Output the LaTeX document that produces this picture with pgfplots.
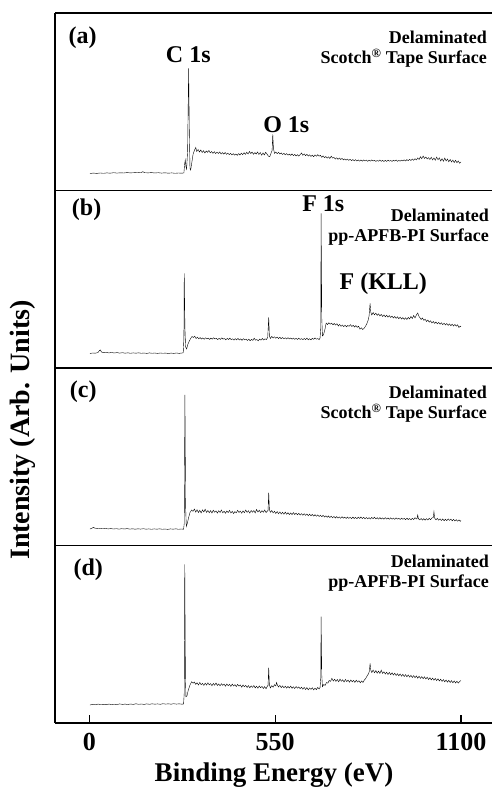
\documentclass[border=0pt]{standalone}
\usepackage{fontspec}
\setmainfont{Liberation Serif}
\usepackage{pgfplots}
\pgfplotsset{compat=1.18}
\newcommand{\fa}{\fontsize{24bp}{28bp}\selectfont\bfseries}
\newcommand{\fb}{\fontsize{18bp}{20bp}\selectfont\bfseries}
\pgfplotsset{panel/.style={scale only axis, width=445bp, height=177.5bp,
  xmin=-101.5, xmax=1215.5, ymin=0, ymax=177.5, ytick=\empty, xtick=\empty,
  axis x line=box, axis y line=left,
  axis line style={line width=1.3bp, -}, x axis line style={-}, y axis line style={-},
  anchor=south west,
  cycle list={{black, line width=1.25bp, mark=none, line join=round}}}}
\begin{document}
\begin{tikzpicture}
\useasboundingbox (0,0) rectangle (492bp,787bp);
% ---------------- (a)
\begin{axis}[panel, at={(55bp,596.5bp)}]
\addplot coordinates {(2,17.0) (12,17.4) (22,17.1) (32,17.5) (42,17.2) (52,17.6) (62,17.3) (72,17.8) (82,17.4) (92,17.7) (102,17.5) (112,17.9) (122,17.6) (132,17.8) (142,18.0) (152,17.7) (158,18.8) (164,17.8) (174,17.6) (184,17.9) (194,17.5) (204,17.8) (214,17.4) (224,17.7) (234,17.3) (244,17.6) (254,17.2) (264,17.5) (274,17.3) (280,17.6)
(282,26) (284,30.5) (286,24) (288,21.5) (291,40) (294,122) (296,60) (298,22) (300,20.5) (303,27) (307,36) (311,40) (315,43) (318,39)
(322,41) (326,38.5) (330,40.5) (334,38) (338,39.8) (342,37.5) (346,39.5) (350,38.2) (354,40) (358,37.6) (362,39) (366,37.2) (370,38.8) (374,36.9) (378,38.4) (382,37) (386,38.6) (390,36.5) (394,37.9) (398,36.4) (402,38) (406,36.2) (410,37.4) (414,35.9) (418,37.1) (422,35.6) (426,36.8) (430,35.4) (434,36.5) (438,35.2) (442,36.9) (446,35.5) (450,37.3) (454,35.8) (458,37.8) (462,36.1) (466,38.2) (470,36.5) (474,39) (478,37) (482,38.4) (486,36.2) (490,37.9) (494,36.5) (498,38.5) (502,36) (506,38) (510,35.2) (514,37.6) (518,35.6) (522,38.2) (526,36.4) (530,34.4) (534,33.8) (538,37.5) (541,40) (543,56) (545,42) (548,37)
(552,38.5) (556,36.8) (560,38.2) (564,36.5) (568,37.6) (572,36) (576,37.2) (580,35.6) (584,36.9) (588,35.3) (592,36.4) (596,35.1) (600,36.6) (604,34.9) (608,36.1) (612,34.6) (616,35.8) (620,34.4) (624,35.9) (628,37.5) (632,35.2) (636,36.6) (640,34.8) (644,36.2) (648,34.5) (652,35.7) (656,34) (660,35.3) (664,33.8) (668,35.5) (672,34.2) (676,35.8) (680,34.3) (684,35.2) (688,33.2) (692,34.6) (696,32.8) (700,34) (704,32.3) (708,33.7) (712,32) (716,34.3) (720,32.4) (724,33.1) (728,31.5) (732,32.7) (736,31.2) (740,32.5) (744,31) (748,32.1) (752,30.6) (756,31.6) (760,30.4) (764,31.4) (768,30.2) (772,31.2) (776,29.8) (780,31)
(784,29.6) (788,30.8) (792,29.5) (796,30.6) (800,29.4) (804,30.5) (808,29.3) (812,30.6) (816,29.5) (820,30.4) (824,29.2) (828,30.3) (832,29.4) (836,30.6) (840,29.5) (844,30.2) (848,29.1) (852,30) (856,29.3) (860,30.5) (864,29.2) (868,30.1) (872,29) (876,30.2) (880,29.1) (884,30.4) (888,29.3) (892,30) (896,29.1) (900,30.3) (904,29.4) (908,30.5) (912,29.2) (916,30.1) (920,29.3) (924,30.4) (928,29.6) (932,30.7) (936,29.5) (940,30.9) (944,29.8) (948,31.2) (952,30) (956,31.5) (960,30.2) (964,31.8) (968,30.6) (972,32.5) (976,31) (980,33.8) (984,31.8) (988,34.5) (992,32) (996,33.5) (1000,31.5) (1004,32.8) (1008,31) (1012,33.2) (1016,30.6) (1020,32.5) (1024,30.2) (1028,33.4) (1032,30.8) (1036,32.6) (1040,29.5) (1044,31.8) (1048,29.2) (1052,32.4) (1056,29.6) (1060,31.5) (1064,28.8) (1068,31) (1072,28.5) (1076,30.4) (1080,28) (1084,30.2) (1088,27.8) (1092,29.6) (1096,27.2) (1100,28.6)};
\node[font=\fa] at (axis cs:-20,153) {(a)};
\node[font=\fa] at (axis cs:293,136) {C 1s};
\node[font=\fa] at (axis cs:583,66) {O 1s};
\node[font=\fb, align=right, anchor=east, inner sep=0pt] at (axis cs:1177,141) {Delaminated\\Scotch\textsuperscript{\textregistered} Tape Surface};
\end{axis}
% ---------------- (b)
\begin{axis}[panel, at={(55bp,419bp)}]
\addplot coordinates {(2,14.5) (10,15) (18,14.8) (26,15.5) (30,17.5) (33,18) (36,16) (42,15.3) (50,15.6) (58,15.1) (66,15.5) (74,15) (82,15.4) (90,14.9) (98,15.3) (106,14.8) (114,15.2) (122,14.7) (130,15.1) (138,14.8) (146,15.2) (154,14.7) (162,15) (170,14.6) (178,15.1) (186,14.7) (194,15) (202,14.6) (210,15) (218,14.7) (226,14.9) (234,14.5) (242,14.9) (250,14.6) (258,15) (266,14.6) (274,15) (278,15.2)
(280,30) (281,94.7) (283,40) (285,21) (288,19) (292,24) (296,27) (300,29.5) (304,31.5) (308,30.5) (312,31.8)
(316,29.5) (320,30.8) (324,29.2) (328,30.4) (332,29) (336,30.1) (340,28.7) (344,30.2) (348,29.1) (352,29.8) (356,28.6) (360,29.9) (364,28.8) (368,30.3) (372,29) (376,29.6) (380,28.4) (384,29.7) (388,28.6) (392,30.2) (396,28.9) (400,29.5) (404,28.2) (408,29.6) (412,28.5) (416,29.9) (420,28.3) (424,29.2) (428,27.9) (432,29.4) (436,28.1) (440,29.6) (444,28) (448,29.1) (452,27.7) (456,29.3) (460,28.2) (464,28.9) (468,27.5) (472,28.8) (476,27.3) (480,28.6) (484,27.6) (488,29.8) (492,27.8) (496,28.5) (500,27.2) (504,28.9) (508,27.9) (512,29.5) (516,28) (520,29.2) (524,28.4) (528,30.5) (531,50.7) (533,32) (536,29.5) (540,31.6) (544,30) (548,31.2) (552,29.7) (556,30.9) (560,29.5) (564,30.6) (568,29.3) (572,30.5) (576,29.2) (580,30.2) (584,29) (588,30.4) (592,29.1) (596,30) (600,28.8) (604,29.9) (608,28.7) (612,29.6) (616,28.5) (620,29.8) (624,28.6) (628,29.4) (632,28.3) (636,29.5) (640,28.4) (644,29.9) (648,28.2) (652,29.3) (656,28.1) (660,29.6) (664,28.7) (668,30) (672,28.8) (676,29.5) (680,28.3) (683,30)
(685,40) (686,154.7) (688,50) (690,32) (693,33) (697,38) (701,45) (705,43.5) (709,45.2) (713,43.8) (717,44.9) (721,43.2) (725,44.5) (729,42.9) (733,44.3) (737,42) (741,43.6) (745,41.6) (749,43) (753,41.4) (757,42.8) (761,41.2) (765,42.5) (769,41.7) (773,43.4) (777,41.5) (781,42.6) (785,41) (789,42.4) (793,40.6) (797,41.8) (801,38.8) (805,40.2) (809,38.5) (813,39.6) (817,41.5) (821,44) (825,47.5) (828,52) (831,64.7) (833,56) (836,53) (840,55.5) (844,53.2) (848,54.8) (852,52.6) (856,54.2) (860,52) (864,53.6) (868,51.5) (872,53.1) (876,51.2) (880,52.8) (884,50.8) (888,52.4) (892,50.5) (896,51.8) (900,50) (904,51.5) (908,49.6) (912,51.2) (916,49.3) (920,50.8) (924,49) (928,50.4) (932,48.6) (936,50.2) (940,48.5) (944,50.6) (948,49) (952,51.5) (956,49.5) (960,52.5) (964,50) (968,53) (972,55) (975,52) (978,50.5) (982,48.5) (986,50) (990,47.6) (994,48.8) (998,46.5) (1002,48) (1006,45.8) (1010,47.2) (1014,45) (1018,46.5) (1022,44.6) (1026,46) (1030,44.2) (1034,45.6) (1038,43.8) (1042,45.2) (1046,43.4) (1050,44.8) (1054,43) (1058,44.5) (1062,42.6) (1066,44.1) (1070,42.3) (1074,43.8) (1078,42) (1082,43.6) (1086,41.8) (1090,43.2) (1094,40.5) (1098,41.8) (1100,41.3)};
\node[font=\fa] at (axis cs:-8,158) {(b)};
\node[font=\fa] at (axis cs:692.5,164.7) {F 1s};
\node[font=\fa] at (axis cs:870,84.7) {F (KLL)};
\node[font=\fb, align=right, anchor=east, inner sep=0pt] at (axis cs:1183,141.3) {Delaminated\\pp-APFB-PI Surface};
\end{axis}
% ---------------- (c)
\begin{axis}[panel, at={(55bp,241.5bp)}]
\addplot coordinates {(2,16.5) (8,17.3) (12,18.2) (16,17.4) (24,16.9) (32,17.1) (40,16.7) (48,17) (56,16.6) (64,16.9) (72,16.5) (80,16.8) (88,16.4) (96,16.8) (104,16.5) (112,16.9) (120,16.4) (128,16.7) (136,16.3) (144,16.7) (152,16.4) (160,16.8) (168,16.3) (176,16.6) (184,16.2) (192,16.6) (200,16.3) (208,16.7) (216,16.2) (224,16.5) (232,16.1) (240,16.6) (248,16.3) (256,16.7) (264,16.2) (272,16.5) (279,16.2)
(281,22) (283,150.5) (285,40) (287,19) (290,22) (294,28) (298,33) (303,35.5) (307,34.2)
(311,36.5) (315,33.4) (319,35.8) (323,33) (327,35.2) (331,32.6) (335,35.6) (339,33.5) (343,36.2) (347,33.1) (351,35) (355,32.8) (359,34.9) (363,32.5) (367,35.3) (371,33.2) (375,34.6) (379,32.4) (383,34.8) (387,33) (391,35.5) (395,32.7) (399,34.3) (403,32.2) (407,34.5) (411,32.9) (415,35.1) (419,32.5) (423,34.2) (427,31.9) (431,34) (435,32.6) (439,35.2) (443,33) (447,34.4) (451,32.3) (455,34.6) (459,32.8) (463,35.4) (467,33.1) (471,34.7) (475,32.4) (479,35) (483,33.3) (487,34.9) (491,32.6) (495,36) (499,33.4) (503,35.2) (507,32.9) (511,34.8) (515,33.2) (519,35.5) (523,33) (527,34.4) (529,35) (531,52.8) (533,36) (536,33.2) (540,35) (544,32.6) (548,34.2) (552,32) (556,33.9) (560,31.8) (564,33.6) (568,31.5) (572,33.2) (576,31.3) (580,33.4) (584,31.2) (588,32.8) (592,30.9) (596,32.6) (600,30.8) (604,32.9) (608,31) (612,32.4) (616,30.6) (620,32.2) (624,30.4) (628,31.9) (632,30.2) (636,31.8) (640,30.1) (644,31.5) (648,29.8) (652,31.4) (656,29.6) (660,31.1) (664,29.4) (668,30.8) (672,29.2) (676,30.6) (680,29) (684,30.3) (688,28.8) (692,30.1) (696,28.5) (700,29.7) (704,28.2) (708,29.5) (712,27.9) (716,29.3) (720,27.7) (724,29.1) (728,27.5) (732,28.9) (736,27.4) (740,28.6) (744,27.2) (748,28.8) (752,27.3) (756,28.4) (760,27) (764,28.5) (768,27.1) (772,28.2) (776,26.9) (780,28.4) (784,27) (788,28.1) (792,26.8) (796,28.3) (800,27.1) (804,28.5) (808,26.9) (812,28.2) (816,26.7) (820,28) (824,26.6) (828,27.9) (832,26.5) (836,28.1) (840,26.8) (844,28.3) (848,26.6) (852,27.8) (856,26.4) (860,27.9) (864,26.5) (868,27.6) (872,26.3) (876,27.8) (880,26.4) (884,27.5) (888,26.2) (892,27.7) (896,26.3) (900,27.4) (904,26.1) (908,27.6) (912,26.4) (916,27.2) (920,26) (924,27.4) (928,26.2) (932,27.1) (936,25.8) (940,27.3) (944,26) (948,27) (952,25.7) (956,27.2) (960,25.9) (964,27.8) (968,26.5) (970,27) (972,30.5) (974,26.8) (978,25.6) (982,27) (986,25.4) (990,26.8) (994,25.3) (998,26.9) (1002,25.5) (1006,27.2) (1010,25.8) (1014,27.5) (1018,28) (1020,33.8) (1022,27.5) (1026,25.6) (1030,27.1) (1034,25.3) (1038,26.7) (1042,25) (1046,26.5) (1050,24.8) (1054,26.3) (1058,24.9) (1062,26.6) (1066,25.1) (1070,26.4) (1074,24.7) (1078,26.1) (1082,24.5) (1086,25.8) (1090,24.3) (1094,25.6) (1098,24.2) (1100,25)};
\node[font=\fa] at (axis cs:-18,153.8) {(c)};
\node[font=\fb, align=right, anchor=east, inner sep=0pt] at (axis cs:1177,141.3) {Delaminated\\Scotch\textsuperscript{\textregistered} Tape Surface};
\end{axis}
% ---------------- (d)
\begin{axis}[panel, at={(55bp,64bp)}, xtick={0,550,1100}, xticklabels={0,550,1100},
  xtick pos=left, major tick length=8bp, tick style={line width=1.2bp, black},
  xticklabel style={font=\fontsize{26bp}{30bp}\selectfont\bfseries, inner sep=0pt, yshift=-10.3bp}]
\addplot coordinates {(2,18) (10,18.6) (18,18.2) (26,18.9) (34,18.4) (42,18.7) (50,18.3) (58,18.9) (66,18.5) (74,18.8) (82,18.4) (90,19.1) (98,18.6) (106,18.9) (114,18.5) (122,19) (130,18.6) (138,19.2) (146,18.7) (154,19) (162,18.6) (170,19.1) (178,18.7) (186,19.2) (194,18.8) (202,19.1) (210,18.7) (218,19.3) (226,18.9) (234,19.2) (242,18.8) (250,19.3) (258,18.9) (266,19.2) (274,18.8) (279,19)
(281,30) (282.5,158.7) (284.5,45) (286,26.3) (289,27) (293,33) (298,38) (303,41.3) (307,39.8)
(311,41) (315,38.6) (319,40.3) (323,38) (327,40.5) (331,38.3) (335,39.6) (339,37.6) (343,39.8) (347,37.9) (351,40.2) (355,38.1) (359,39.4) (363,37.3) (367,39.5) (371,37.8) (375,40) (379,37.5) (383,39.1) (387,37.2) (391,39.3) (395,37.6) (399,38.9) (403,36.8) (407,39) (411,37.3) (415,38.7) (419,36.6) (423,38.9) (427,37) (431,38.4) (435,36.4) (439,38.6) (443,36.8) (447,38.1) (451,35.8) (455,38) (459,36.2) (463,37.6) (467,35.5) (471,37.4) (475,35.2) (479,37.1) (483,35.6) (487,37.5) (491,35.1) (495,36.8) (499,34.8) (503,37) (507,35.3) (511,36.6) (515,34.5) (519,36.4) (523,34.2) (527,36.9) (529,37.5) (531,55.3) (533,38) (536,35) (540,37.4) (544,35.8) (548,38.3) (552,37) (554,40.5) (557,37.8) (560,36) (564,37.6) (568,35.4) (572,37.1) (576,35.2) (580,36.8) (584,34.9) (588,36.6) (592,35) (596,36.9) (600,34.7) (604,36.3) (608,34.5) (612,36.5) (616,34.8) (620,36.1) (624,34.2) (628,35.9) (632,33.8) (636,35.6) (640,33.5) (644,35.4) (648,33.2) (652,35.1) (656,33.6) (660,35.3) (664,33.1) (668,34.8) (672,33.4) (676,35.6) (680,34) (683,35.5) (685,45) (686,106.3) (688,48) (690,36.3) (694,38.5) (698,37.6) (702,40.5) (706,39.8) (710,42.5) (714,41.6) (718,44.7) (722,42) (726,43.8) (730,41.6) (734,43.5) (738,41.2) (742,43.9) (746,41.7) (750,43.2) (754,41) (758,43.6) (762,41.4) (766,42.9) (770,40.8) (774,43.1) (778,41.2) (782,42.6) (786,40.6) (790,42.8) (794,40.9) (798,42.3) (802,40.2) (806,42.1) (810,40.5) (814,43) (818,44.5) (822,47) (826,49) (829,52) (831,59.7) (833,53) (836,50.5) (840,53) (844,50.2) (848,52.4) (852,49.8) (856,51.9) (860,49.5) (864,52.8) (868,49.6) (872,51.2) (876,49) (880,50.8) (884,48.5) (888,50.6) (892,48.3) (896,50.2) (900,47.9) (904,49.8) (908,47.5) (912,49.3) (916,47.2) (920,49.1) (924,46.8) (928,48.7) (932,46.5) (936,48.4) (940,46.2) (944,48.1) (948,45.9) (952,47.7) (956,45.5) (960,47.4) (964,45.3) (968,47.1) (972,44.8) (976,46.8) (980,44.6) (984,46.4) (988,44.3) (992,46.2) (996,44) (1000,45.8) (1004,43.5) (1008,45.3) (1012,43.1) (1016,44.9) (1020,42.8) (1024,44.6) (1028,42.4) (1032,44.2) (1036,42) (1040,43.8) (1044,41.6) (1048,43.4) (1052,41.2) (1056,43) (1060,40.8) (1064,42.7) (1068,40.5) (1072,42.4) (1076,40.2) (1080,42.1) (1084,40) (1088,41.8) (1092,39.9) (1096,41.5) (1100,42.5)};
\node[font=\fa] at (axis cs:-3,153) {(d)};
\node[font=\fb, align=right, anchor=east, inner sep=0pt] at (axis cs:1183,149.7) {Delaminated\\pp-APFB-PI Surface};
\end{axis}
\node[font=\fontsize{28bp}{30bp}\selectfont\bfseries, rotate=90] at (23bp,357bp) {Intensity (Arb. Units)};
\node[font=\fontsize{27bp}{30bp}\selectfont\bfseries, anchor=base] at (274bp,6bp) {Binding Energy (eV)};
\end{tikzpicture}
\end{document}
